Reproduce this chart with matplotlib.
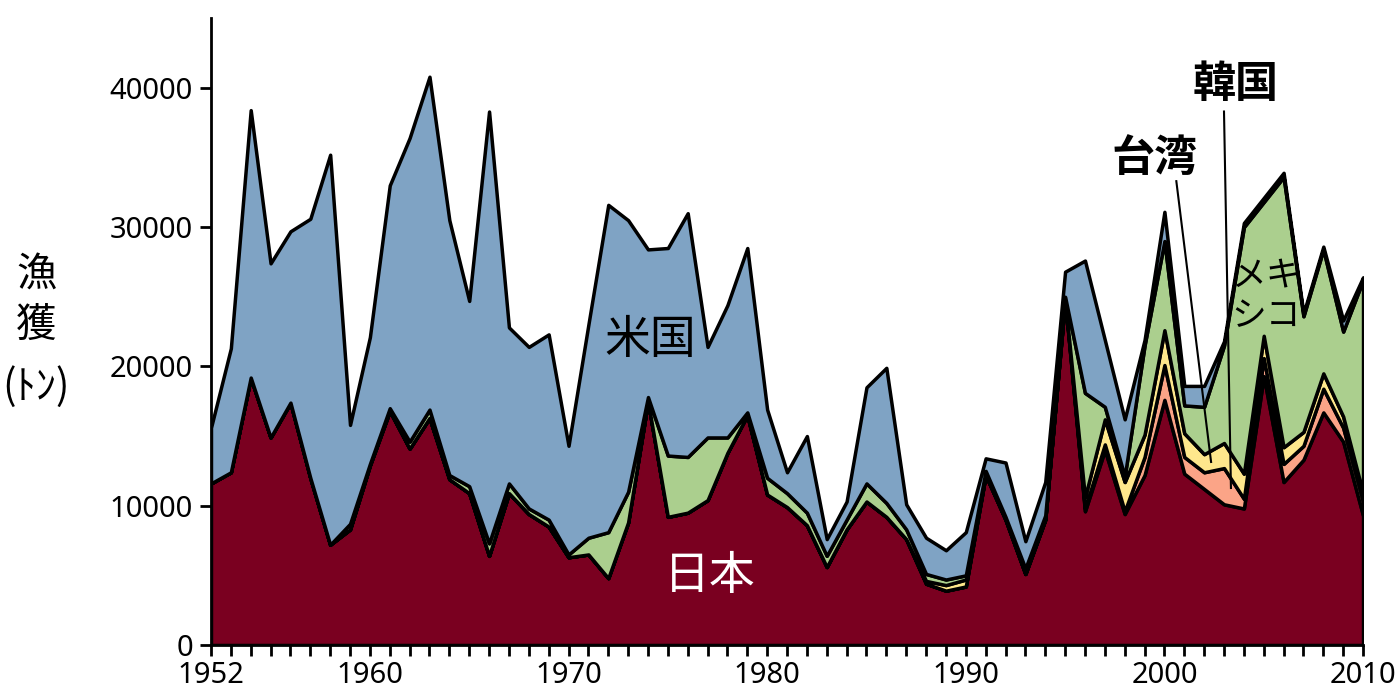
import matplotlib
matplotlib.use('Agg')
import matplotlib.pyplot as plt
import numpy as np

plt.rcParams['font.family'] = ['Noto Sans', 'Noto Sans CJK JP', 'DejaVu Sans']
JP = ['Noto Sans CJK JP', 'DejaVu Sans']

years = list(range(1952, 2011))

# cumulative levels (top edge of each band)
japan_top = [11600, 12400, 19200, 14900, 17400, 12000, 7200, 8300, 12900, 16800,
             14100, 16300, 11900, 10900, 6400, 10900, 9400, 8500, 6300, 6500,
             4800, 8800, 17500, 9200, 9500, 10400, 13800, 16500, 10800, 9900,
             8600, 5600, 8300, 10300, 9200, 7600, 4400, 3900, 4200, 12200,
             9000, 5100, 9000, 24800, 9600, 14000, 9400, 12200, 17600, 12300,
             11200, 10100, 9800, 19300, 11700, 13300, 16700, 14600, 9300]
korea_top = japan_top[:44] + [9800, 14400, 9600, 13500, 20100, 13500,
                              12400, 12700, 10500, 20600, 13000, 14300, 18400, 15600, 10300]
taiwan_top = (korea_top[:36] + [4600, 4300, 4700] + korea_top[39:44]
              + [10600, 16200, 11700, 15100, 22600, 15200,
                 13700, 14500, 12300, 22200, 14200, 15300, 19500, 16400, 10900])
mexico_top = [11600, 12400, 19200, 14900, 17400, 12000, 7200, 8700, 13000, 17000,
              14600, 16900, 12200, 11400, 7300, 11600, 9800, 9000, 6500, 7700,
              8100, 11000, 17800, 13600, 13500, 14900, 14900, 16700, 12000, 10900,
              9500, 6400, 9000, 11600, 10200, 8300, 5100, 4700, 5000, 12500,
              9200, 5500, 9300, 25000, 18100, 17100, 12100, 21500, 29000, 17200,
              17100, 21500, 30000, 31800, 33600, 23600, 28400, 22500, 26200]
total = [15600, 21300, 38400, 27400, 29700, 30600, 35200, 15800, 22100, 33000,
         36400, 40800, 30500, 24700, 38300, 22800, 21400, 22300, 14300, 23000,
         31600, 30500, 28400, 28500, 31000, 21400, 24400, 28500, 16900, 12400,
         15000, 7600, 10300, 18500, 19900, 10100, 7700, 6800, 8100, 13400,
         13100, 7450, 11700, 26800, 27600, 21900, 16200, 21900, 31100, 18600,
         18600, 21800, 30300, 32100, 33900, 23800, 28600, 23300, 26400]

japan = np.array(japan_top)
korea = np.array(korea_top) - np.array(japan_top)
taiwan = np.array(taiwan_top) - np.array(korea_top)
mexico = np.array(mexico_top) - np.array(taiwan_top)
usa = np.array(total) - np.array(mexico_top)

colors = ['#7a0020', '#fba487', '#fee78c', '#abcf8e', '#7fa3c4']

fig = plt.figure(figsize=(14, 7), dpi=100)
ax = fig.add_axes([0.1507, 0.0786, 0.8229, 0.8954])
ax.stackplot(years, japan, korea, taiwan, mexico, usa, colors=colors,
             edgecolor='black', linewidth=2.5)

ax.set_xlim(1952, 2010)
ax.set_ylim(0, 45000)
ax.set_xticks([1952, 1960, 1970, 1980, 1990, 2000, 2010])
ax.set_xticks(years, minor=True)
ax.set_yticks([0, 10000, 20000, 30000, 40000])
ax.tick_params(axis='both', which='both', direction='out', length=8, width=2,
               labelsize=21)
ax.tick_params(axis='y', pad=5)
ax.spines['top'].set_visible(False)
ax.spines['right'].set_visible(False)
ax.spines['left'].set_linewidth(2)
ax.spines['bottom'].set_linewidth(2)

fig.text(0.026, 0.571, '漁\n獲', fontsize=29, ha='center', va='center',
         linespacing=1.3, family=JP)
fig.text(0.026, 0.447, '(ﾄﾝ)', fontsize=29, ha='center', va='center', family=JP)

ax.text(1974.1, 21900, '米国', fontsize=33, ha='center', va='center', family=JP)
ax.text(1977.1, 5000, '日本', fontsize=33, ha='center', va='center',
        color='white', family=JP)
ax.text(2005.1, 25000, 'メキ\nシコ', fontsize=25, ha='center', va='center',
        linespacing=1.15, family=JP)
ax.text(1999.5, 35000, '台湾', fontsize=31, ha='center', va='center',
        fontweight='bold', family=JP)
ax.text(2003.6, 40300, '韓国', fontsize=31, ha='center', va='center',
        fontweight='bold', family=JP)
ax.plot([2000.6, 2002.35], [33300, 13140], color='black', linewidth=1.5)
ax.plot([2003.0, 2003.35], [38300, 11270], color='black', linewidth=1.5)

fig.savefig('out.png', dpi=100)
